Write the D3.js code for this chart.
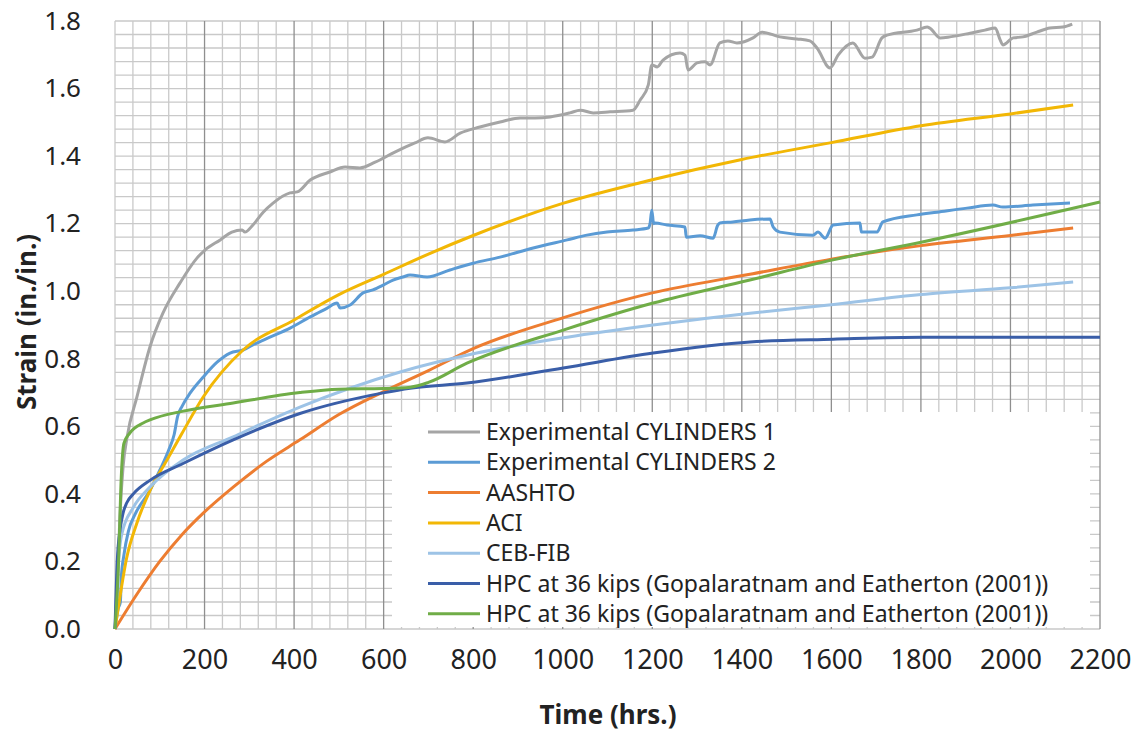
<!DOCTYPE html>
<html>
<head>
<meta charset="utf-8">
<script src="https://cdn.jsdelivr.net/npm/d3@7"></script>
<style>
  body { margin: 0; background: #fff; }
  svg { font-family: "Noto Sans", "Open Sans", sans-serif; }
</style>
</head>
<body>
<script>
// --- data (hours, strain) ---
var exp1 = [[0,0],[5,0.1],[10,0.3],[18,0.48],[27,0.568],[49,0.687],[78,0.835],[107,0.935],[145,1.024],[183,1.098],[201,1.122],[235,1.152],[261,1.175],[284,1.181],[290,1.175],[308,1.196],[331,1.234],[353,1.261],[391,1.291],[407,1.294],[436,1.329],[480,1.353],[514,1.368],[547,1.365],[581,1.382],[625,1.412],[670,1.439],[699,1.454],[737,1.442],[771,1.468],[815,1.486],[860,1.501],[905,1.513],[938,1.513],[972,1.516],[1016,1.528],[1039,1.536],[1068,1.528],[1106,1.531],[1157,1.536],[1173,1.566],[1191,1.61],[1199,1.67],[1211,1.664],[1224,1.684],[1262,1.705],[1273,1.699],[1280,1.655],[1300,1.676],[1318,1.679],[1329,1.67],[1351,1.735],[1369,1.741],[1389,1.735],[1425,1.75],[1445,1.767],[1485,1.753],[1523,1.747],[1552,1.741],[1568,1.72],[1597,1.661],[1615,1.699],[1648,1.735],[1675,1.69],[1691,1.693],[1713,1.75],[1724,1.758],[1791,1.773],[1814,1.782],[1820,1.779],[1843,1.75],[1865,1.753],[1910,1.764],[1943,1.773],[1966,1.779],[1977,1.744],[1983,1.729],[2006,1.75],[2028,1.753],[2059,1.767],[2088,1.779],[2117,1.782],[2138,1.791]];

var exp2 = [[0,0],[7,0.06],[12,0.08],[14,0.15],[20,0.22],[30,0.29],[45,0.34],[78,0.41],[100,0.47],[120,0.53],[132,0.575],[140,0.63],[150,0.66],[168,0.699],[197,0.746],[228,0.79],[257,0.817],[286,0.826],[308,0.841],[346,0.864],[391,0.891],[436,0.924],[474,0.95],[496,0.965],[503,0.95],[525,0.959],[554,0.995],[576,1.004],[599,1.018],[621,1.033],[643,1.042],[659,1.048],[697,1.042],[748,1.063],[800,1.083],[860,1.101],[934,1.128],[1010,1.152],[1054,1.166],[1099,1.175],[1157,1.181],[1191,1.187],[1195,1.2],[1199,1.24],[1203,1.2],[1206,1.202],[1233,1.196],[1273,1.19],[1276,1.16],[1307,1.164],[1336,1.157],[1346,1.195],[1351,1.202],[1380,1.205],[1418,1.211],[1463,1.214],[1470,1.19],[1485,1.175],[1559,1.166],[1570,1.175],[1586,1.157],[1604,1.196],[1664,1.202],[1667,1.175],[1702,1.175],[1715,1.205],[1791,1.226],[1836,1.234],[1903,1.246],[1961,1.255],[1983,1.249],[2050,1.255],[2133,1.261]];

var aashto = [[0,0],[50,0.105],[100,0.2],[150,0.28],[197,0.343],[264,0.42],[339,0.497],[413,0.56],[500,0.635],[600,0.703],[700,0.765],[800,0.83],[1000,0.921],[1200,0.995],[1418,1.05],[1600,1.095],[1800,1.135],[2000,1.165],[2140,1.187]];

var aci = [[0,0],[11,0.095],[26,0.21],[48,0.31],[78,0.41],[116,0.5],[150,0.58],[197,0.687],[286,0.826],[400,0.915],[500,0.99],[600,1.05],[700,1.11],[800,1.165],[1000,1.26],[1200,1.33],[1400,1.39],[1600,1.44],[1800,1.49],[2000,1.525],[2140,1.551]];

var cebfib = [[0,0],[5,0.15],[15,0.28],[41,0.36],[78,0.42],[152,0.5],[264,0.569],[413,0.657],[637,0.761],[808,0.817],[1010,0.864],[1202,0.9],[1418,0.935],[1600,0.96],[1800,0.99],[2000,1.01],[2140,1.027]];

var hpcBlue = [[0,0],[5,0.2],[12,0.3],[18,0.343],[26,0.373],[41,0.4],[78,0.44],[152,0.49],[264,0.56],[413,0.638],[599,0.699],[659,0.713],[786,0.728],[1001,0.773],[1202,0.817],[1418,0.85],[1604,0.858],[1805,0.864],[2200,0.864]];

var hpcGreen = [[0,0],[8,0.2],[14,0.45],[20,0.55],[33,0.58],[63,0.61],[78,0.619],[152,0.645],[264,0.669],[413,0.7],[500,0.71],[600,0.712],[660,0.716],[700,0.73],[786,0.787],[1001,0.885],[1202,0.965],[1418,1.033],[1601,1.092],[1803,1.146],[2200,1.264]];

var seriesNames = ["Experimental CYLINDERS 1", "Experimental CYLINDERS 2", "AASHTO", "ACI", "CEB-FIB",
                   "HPC at 36 kips (Gopalaratnam and Eatherton (2001))",
                   "HPC at 36 kips (Gopalaratnam and Eatherton (2001))"];
var seriesData = [exp1, exp2, aashto, aci, cebfib, hpcBlue, hpcGreen];
var colors = ["#a5a5a5", "#5b9bd5", "#ed7d31", "#f2b705", "#9dc3e6", "#3a5ea8", "#70ad47"];

var xTicks = d3.range(0, 2201, 200);
var yTicks = d3.range(0, 10).map(i => i * 0.2);

// --- layout ---
var width = 1139, height = 733;
var x = d3.scaleLinear().domain([0, 2200]).range([115, 1100]);
var y = d3.scaleLinear().domain([0, 1.8]).range([629, 21]);

var svg = d3.select("body").append("svg")
  .attr("width", width)
  .attr("height", height);

// grid: fine horizontal lines every 0.04, vertical every 40, major vertical every 200
var grid = svg.append("g");
grid.selectAll("line.h")
  .data(d3.range(0, 46).map(i => i * 0.04))
  .enter().append("line")
  .attr("x1", x(0)).attr("x2", x(2200))
  .attr("y1", d => y(d)).attr("y2", d => y(d))
  .attr("stroke", "#c9c9c9").attr("stroke-width", 1.3);

grid.selectAll("line.v")
  .data(d3.range(0, 56).map(i => i * 40))
  .enter().append("line")
  .attr("x1", d => x(d)).attr("x2", d => x(d))
  .attr("y1", y(0)).attr("y2", y(1.8))
  .attr("stroke", d => (d % 200 === 0 && d > 0) ? "#8f8f8f" : "#c9c9c9")
  .attr("stroke-width", 1.3);

// axes labels
var xAxis = svg.append("g")
  .attr("transform", "translate(0," + 647 + ")")
  .call(d3.axisBottom(x).tickValues(xTicks).tickSize(0).tickFormat(d3.format("d")));
xAxis.select(".domain").remove();
xAxis.selectAll("text")
  .attr("font-size", 27).attr("fill", "#222").attr("font-family", "Noto Sans");

var yAxis = svg.append("g")
  .attr("transform", "translate(" + 84 + ",0)")
  .call(d3.axisLeft(y).tickValues(yTicks).tickSize(0).tickFormat(d3.format(".1f")));
yAxis.select(".domain").remove();
yAxis.selectAll("text")
  .attr("font-size", 26).attr("fill", "#222").attr("font-family", "Noto Sans");

// lines
var line = d3.line()
  .x(d => x(d[0]))
  .y(d => y(d[1]))
  .curve(d3.curveMonotoneX);

svg.append("g").selectAll("path")
  .data(seriesData)
  .enter().append("path")
  .attr("d", line)
  .attr("fill", "none")
  .attr("stroke", (d, i) => colors[i])
  .attr("stroke-width", 3)
  .attr("stroke-linejoin", "round");

// legend
var legend = svg.append("g");
legend.append("rect")
  .attr("x", 392).attr("y", 412)
  .attr("width", 698).attr("height", 215)
  .attr("fill", "#fff");

var items = legend.selectAll("g.item")
  .data(seriesNames)
  .enter().append("g")
  .attr("transform", (d, i) => "translate(0," + (432 + i * 30.3) + ")");

items.append("line")
  .attr("x1", 428).attr("x2", 480)
  .attr("y1", 0).attr("y2", 0)
  .attr("stroke", (d, i) => colors[i])
  .attr("stroke-width", 3);

items.append("text")
  .attr("x", 486).attr("y", 8)
  .attr("font-size", 23)
  .attr("fill", "#222")
  .text(d => d);

// axis titles
svg.append("text")
  .attr("x", 608).attr("y", 724)
  .attr("text-anchor", "middle")
  .attr("font-size", 26).attr("font-weight", "bold")
  .attr("fill", "#222")
  .text("Time (hrs.)");

svg.append("text")
  .attr("transform", "translate(36,322) rotate(-90)")
  .attr("text-anchor", "middle")
  .attr("font-size", 26).attr("font-weight", "bold")
  .attr("fill", "#222")
  .text("Strain (in./in.)");
</script>
</body>
</html>
